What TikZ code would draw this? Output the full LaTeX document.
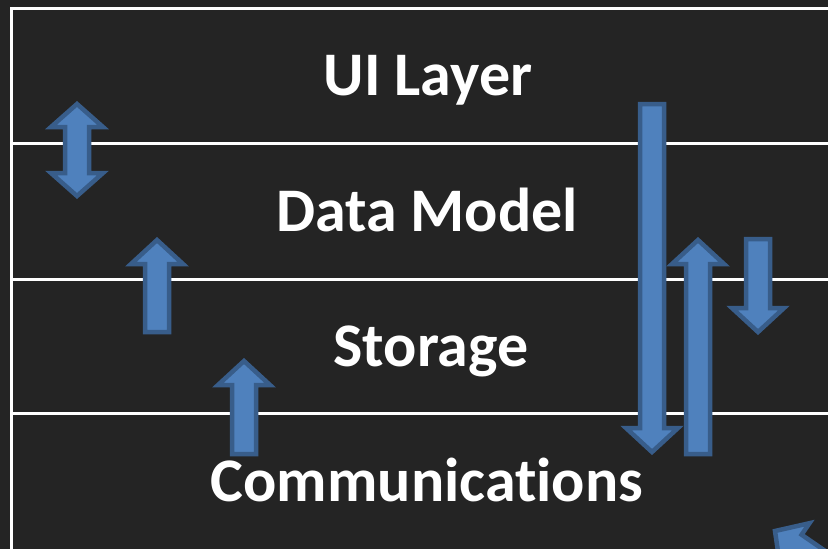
\documentclass[tikz,border=0pt]{standalone}
\usepackage{fontspec}
\setmainfont{Carlito}[Ligatures={NoCommon}]
\definecolor{bgdark}{HTML}{242424}
\definecolor{arrfill}{HTML}{4F81BD}
\definecolor{arrline}{HTML}{385D8A}
\tikzset{
  layerline/.style={draw=white, line width=3pt},
  blockarr/.style={fill=arrfill, draw=arrline, line width=4.5pt, line join=miter},
  layertext/.style={text=white, anchor=base, inner sep=0pt, font=\bfseries\fontsize{62}{70}\selectfont}
}
% up arrow: center x, tip y, tail y  (image coords, y down)
\newcommand\UpArr[3]{%
  \draw[blockarr] (#1-12,#3) -- (#1-12,#2+24) -- (#1-26,#2+24) -- (#1,#2)
    -- (#1+26,#2+24) -- (#1+12,#2+24) -- (#1+12,#3) -- cycle;}
% down arrow: center x, tail y, tip y
\newcommand\DownArr[3]{%
  \draw[blockarr] (#1-12,#2) -- (#1-12,#3-24) -- (#1-26,#3-24) -- (#1,#3)
    -- (#1+26,#3-24) -- (#1+12,#3-24) -- (#1+12,#2) -- cycle;}
\begin{document}
\begin{tikzpicture}[x=1pt,y=-1pt]
\useasboundingbox (0,0) rectangle (828,549);
\fill[bgdark] (0,0) rectangle (828,549);
% layer boundaries
\coordinate (tl) at (11,8);
\coordinate (tr) at (830,8);
\coordinate (bl) at (11,551);
\draw[layerline] (bl) -- (tl) -- (tr);
\coordinate (l1a) at (11,143); \coordinate (l1b) at (830,143);
\coordinate (l2a) at (11,279); \coordinate (l2b) at (830,279);
\coordinate (l3a) at (11,413); \coordinate (l3b) at (830,413);
\draw[layerline] (l1a) -- (l1b);
\draw[layerline] (l2a) -- (l2b);
\draw[layerline] (l3a) -- (l3b);
% labels
\node[layertext] (ui) at (428,95) {UI Layer};
\node[layertext] (dm) at (427,231) {Data Model};
\node[layertext] (st) at (431,366) {Storage};
\node[layertext] (cm) at (427,501) {Communications};
% double arrow
\draw[blockarr] (77,104) -- (103,127) -- (89,127) -- (89,173) -- (103,173) -- (77,196)
  -- (51,173) -- (65,173) -- (65,127) -- (51,127) -- cycle;
% up arrows
\UpArr{157}{240}{332}
\UpArr{244}{361}{454}
\UpArr{698}{240}{454}
% down arrows
\DownArr{652}{104}{452}
\DownArr{758}{239}{332}
% diagonal arrow at lower right (mostly outside)
\begin{scope}
\clip (0,0) rectangle (828,549);
\draw[blockarr] (775,531) -- (809.5,523.2) -- (801.6,534.7) -- (966.4,647.9)
  -- (952.8,667.7) -- (788.0,554.5) -- (780.1,566.0) -- cycle;
\end{scope}
\end{tikzpicture}
\end{document}
